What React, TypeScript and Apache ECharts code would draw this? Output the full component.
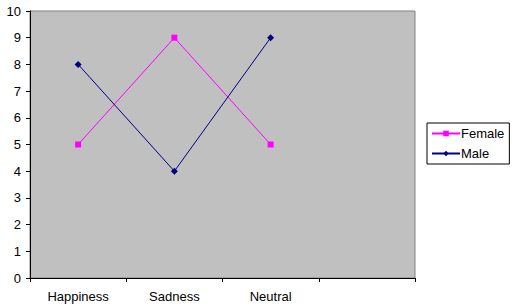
import React, { useEffect, useRef } from "react";
import * as echarts from "echarts";

const categories = ["Happiness", "Sadness", "Neutral", ""];
const femaleValues = [5, 9, 5];
const maleValues = [8, 4, 9];
const yTicks = { min: 0, max: 10, interval: 1 };

export default function App() {
  const ref = useRef<HTMLDivElement>(null);
  useEffect(() => {
    if (!ref.current) return;
    const chart = echarts.init(ref.current, undefined, { renderer: "svg" });
    const font = "Liberation Sans, Arial, sans-serif";
    chart.setOption({
      animation: false,
      backgroundColor: "#ffffff",
      textStyle: { fontFamily: font },
      grid: {
        left: 30,
        right: 100,
        top: 11,
        bottom: 30,
        show: true,
        backgroundColor: "#C0C0C0",
        borderColor: "#808080",
        borderWidth: 1,
      },
      legend: {
        orient: "vertical",
        left: 427,
        top: 123,
        width: 80,
        borderColor: "#000000",
        borderWidth: 1,
        borderRadius: 0,
        padding: [4, 5, 4, 4],
        itemGap: 7,
        itemWidth: 28,
        itemHeight: 7,
        textStyle: { fontFamily: font, fontSize: 13, color: "#000", padding: [0, 0, 0, -4] },
        data: ["Female", "Male"],
      },
      xAxis: {
        type: "category",
        data: categories,
        boundaryGap: true,
        axisLine: { lineStyle: { color: "#000", width: 1 } },
        axisTick: { show: true, length: 4, lineStyle: { color: "#000" } },
        axisLabel: { color: "#000", fontSize: 13, fontFamily: font, margin: 12 },
        splitLine: { show: false },
      },
      yAxis: {
        type: "value",
        min: yTicks.min,
        max: yTicks.max,
        interval: yTicks.interval,
        axisLine: { show: true, lineStyle: { color: "#000", width: 1 } },
        axisTick: { show: true, length: 4, lineStyle: { color: "#000" } },
        axisLabel: { color: "#000", fontSize: 13, fontFamily: font, margin: 9 },
        splitLine: { show: false },
      },
      series: [
        {
          name: "Female",
          type: "line",
          data: femaleValues,
          symbol: "rect",
          symbolSize: 6,
          itemStyle: { color: "#FF00FF" },
          lineStyle: { color: "#FF00FF", width: 1 },
        },
        {
          name: "Male",
          type: "line",
          data: maleValues,
          symbol: "diamond",
          symbolSize: 7,
          itemStyle: { color: "#000080" },
          lineStyle: { color: "#000080", width: 1 },
        },
      ],
    });
    return () => chart.dispose();
  }, []);
  return <div ref={ref} style={{ width: 515, height: 308, position: "absolute", left: 0, top: 0 }} />;
}
